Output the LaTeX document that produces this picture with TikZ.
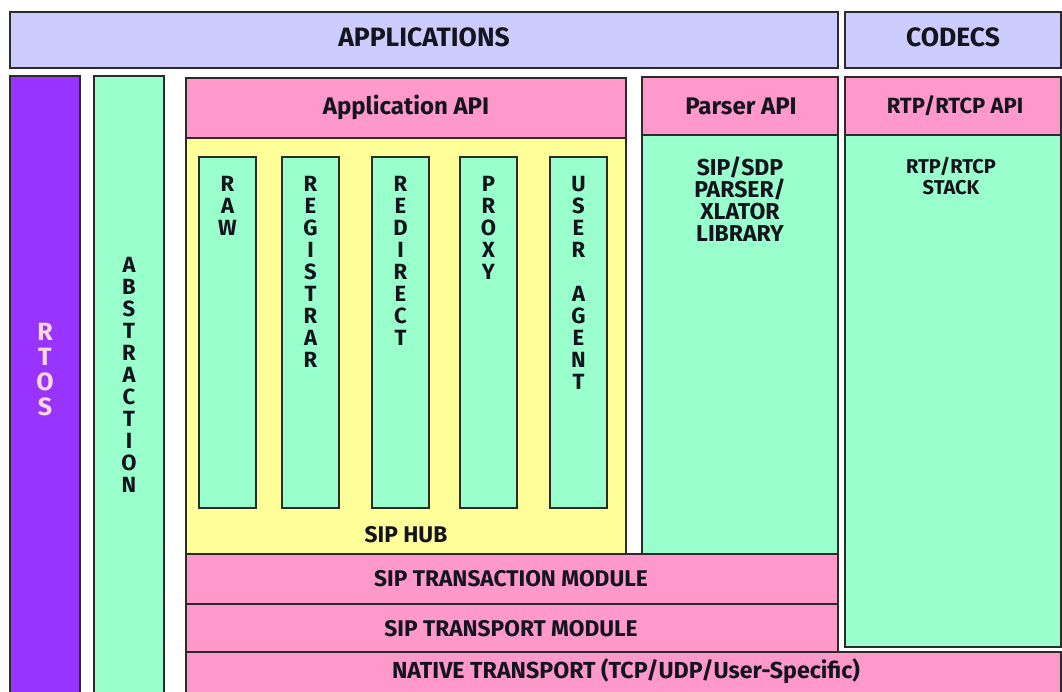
\documentclass[tikz,border=0pt]{standalone}
\usepackage{fontspec}
\setmainfont{Fira Sans}
\definecolor{appblue}{HTML}{CCCCFF}
\definecolor{rtospurple}{HTML}{9933FF}
\definecolor{stackgreen}{HTML}{99FFCC}
\definecolor{apipink}{HTML}{FF99CC}
\definecolor{hubyellow}{HTML}{FFFF99}
\definecolor{edge}{HTML}{2B2B2B}
\definecolor{ink}{HTML}{14141E}
\begin{document}
\begin{tikzpicture}[x=1pt,y=-1pt,
  layer/.style={draw=edge,line width=1.3pt},
  lbl/.style={inner sep=0pt,text=ink,font=\bfseries\fontsize{22.7}{22}\selectfont},
  toplbl/.style={lbl,font=\bfseries\fontsize{26.5}{26}\selectfont},
  apilbl/.style={lbl,font=\bfseries\fontsize{24}{24}\selectfont},
  vlbl/.style={lbl,anchor=north,align=center,font=\bfseries\fontsize{22}{22}\selectfont}]
  \useasboundingbox (0,0) rectangle (1062,691);

  % Top row
  \draw[layer,fill=appblue] (10,12) rectangle (838,68);
  \draw[layer,fill=appblue] (845,12) rectangle (1061,68);
  \node[toplbl] (apps) at (424,37) {APPLICATIONS};
  \node[toplbl] (codecs) at (953,37) {CODECS};

  % Side columns
  \draw[layer,fill=rtospurple] (10,76) rectangle (80,695);
  \draw[layer,fill=stackgreen] (94,76) rectangle (164,695);
  \node[vlbl,anchor=center,text=pink!60,font=\bfseries\fontsize{25}{25}\selectfont] (rtos) at (45,370) {R\\T\\O\\S};
  \node[vlbl,anchor=center] (abstr) at (129,375) {A\\B\\S\\T\\R\\A\\C\\T\\I\\O\\N};

  % SIP hub and its API
  \draw[layer,fill=apipink] (186,78) rectangle (626,138);
  \draw[layer,fill=hubyellow] (186,138) rectangle (626,554);
  \node[apilbl] (appapi) at (406,107) {Application API};
  \node[lbl] (hub) at (406,535) {SIP HUB};

  % Modules inside the hub
  \foreach \x/\name/\txt in {199/raw/R\\A\\W,
                             282/reg/R\\E\\G\\I\\S\\T\\R\\A\\R,
                             372/redir/R\\E\\D\\I\\R\\E\\C\\T,
                             460/proxy/P\\R\\O\\X\\Y,
                             550/ua/U\\S\\E\\R\\\mbox{}\\A\\G\\E\\N\\T} {
    \draw[layer,fill=stackgreen] (\x,157) rectangle (\x+57,508);
    \node[vlbl] (\name) at (\x+28.5,176) {\txt};
  }

  % Parser
  \draw[layer,fill=apipink] (642,77) rectangle (838,135);
  \draw[layer,fill=stackgreen] (642,135) rectangle (838,554);
  \node[apilbl] (parserapi) at (741,106) {Parser API};
  \node[vlbl,font=\bfseries\fontsize{23}{21.7}\selectfont] (parser) at (740,157) {SIP/SDP\\PARSER/\\XLATOR\\LIBRARY};

  % RTP/RTCP
  \draw[layer,fill=apipink] (845,77) rectangle (1061,135);
  \draw[layer,fill=stackgreen] (845,135) rectangle (1061,647);
  \node[lbl,font=\bfseries\fontsize{22}{22}\selectfont] (rtpapi) at (955,106) {RTP/RTCP API};
  \node[vlbl,font=\bfseries\fontsize{20}{21}\selectfont] (rtp) at (951,157) {RTP/RTCP\\STACK};

  % Lower layers
  \draw[layer,fill=apipink] (186,554) rectangle (838,604);
  \draw[layer,fill=apipink] (186,604) rectangle (838,652);
  \draw[layer,fill=apipink] (186,652) rectangle (1061,695);
  \node[lbl] (trans) at (511,579) {SIP TRANSACTION MODULE};
  \node[lbl] (transp) at (511,629) {SIP TRANSPORT MODULE};
  \node[lbl,font=\bfseries\fontsize{23.2}{22}\selectfont] (native) at (626,671) {NATIVE TRANSPORT (TCP/UDP/User-Specific)};
\end{tikzpicture}
\end{document}
